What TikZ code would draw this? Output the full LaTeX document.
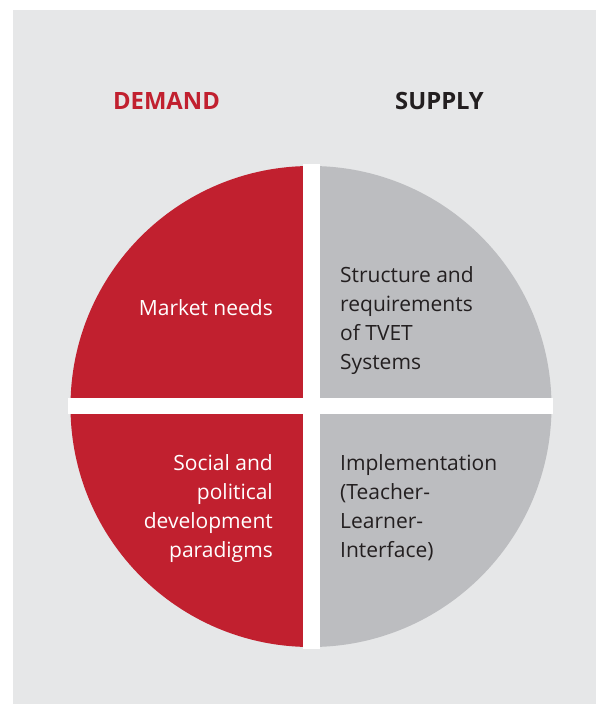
\documentclass[tikz,border=0pt]{standalone}
\usepackage{fontspec}
\setmainfont{Open Sans}
\definecolor{bggrey}{HTML}{E6E7E8}
\definecolor{demred}{HTML}{C1202F}
\definecolor{supgrey}{HTML}{BCBDC0}
\definecolor{darktext}{HTML}{231F20}
\tikzset{
  headlbl/.style={font=\bfseries\fontsize{23.8}{28}\selectfont, inner sep=0pt},
  quadlbl/.style={font=\fontsize{21}{29}\selectfont, inner sep=0pt},
}
\begin{document}
\begin{tikzpicture}[x=1pt,y=-1pt]
\useasboundingbox (0,0) rectangle (596,704);
\fill[bggrey] (13,10) rectangle (596,704);
\coordinate (c) at (311,406.5);
\begin{scope}
  \clip (c) circle[radius=240.5];
  \fill[demred] (60,150) rectangle (311,660);
  \fill[supgrey] (311,150) rectangle (560,660);
\end{scope}
\fill[white] (302.5,164) rectangle (319.5,649);
\fill[white] (67.5,397.7) rectangle (553,414.3);
\node[headlbl, text=demred, anchor=base] (dem) at (166.5,109.5) {DEMAND};
\node[headlbl, text=darktext, anchor=base] (sup) at (439.5,109.5) {SUPPLY};
\node[quadlbl, text=white, anchor=base east] (mkt) at (273,315) {Market needs};
\node[quadlbl, text=darktext, align=left, anchor=north west] (str) at (340,266) {Structure and\\requirements\\of TVET\\Systems};
\node[quadlbl, text=white, align=right, anchor=north east] (soc) at (273,454) {Social and\\political\\development\\paradigms};
\node[quadlbl, text=darktext, align=left, anchor=north west] (imp) at (340,454) {Implementation\\(Teacher-\\Learner-\\Interface)};
\end{tikzpicture}
\end{document}
